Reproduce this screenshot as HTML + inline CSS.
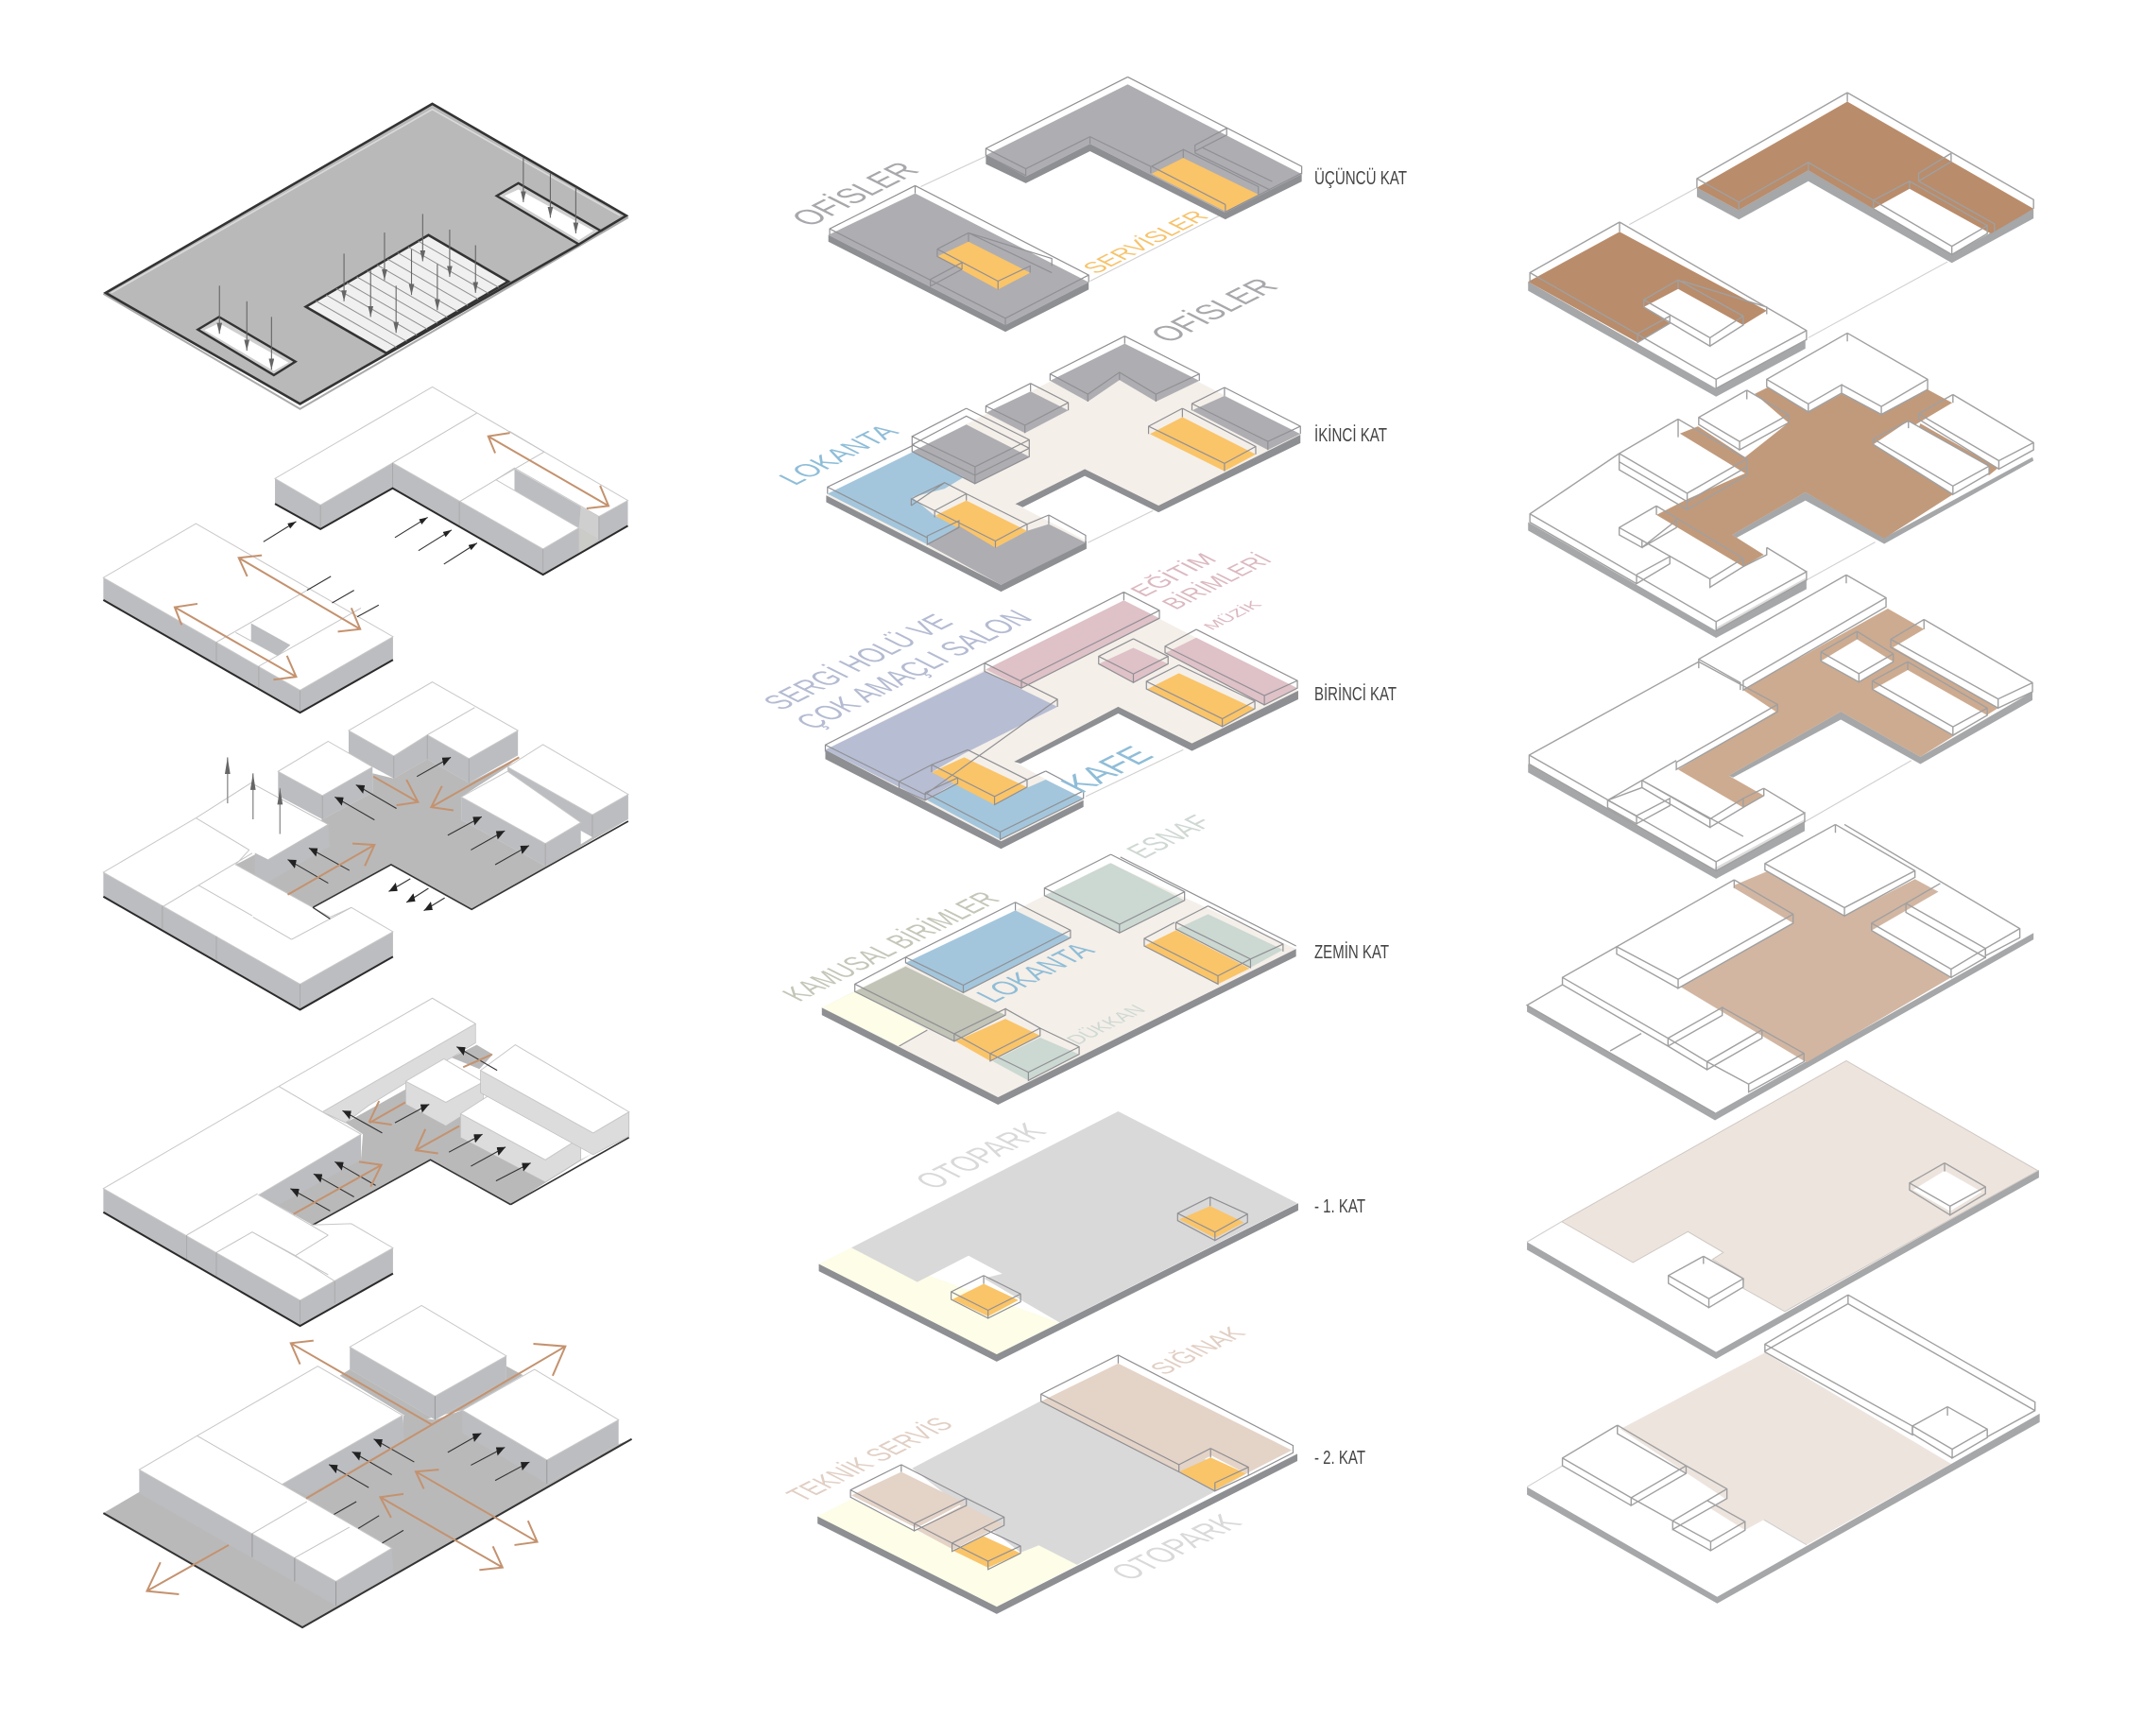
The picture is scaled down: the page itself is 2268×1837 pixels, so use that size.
<!DOCTYPE html>
<html><head><meta charset="utf-8"><style>
html,body{margin:0;padding:0;background:#fff}
svg{display:block}
svg *{vector-effect:non-scaling-stroke}
.g{fill:#bcbdc0;stroke:none}
.gl{fill:#dcdcdc;stroke:#bbb;stroke-width:.7}
.t{fill:#fff;stroke:#c8c8c8;stroke-width:1}
.f{fill:#b9b9b9;stroke:none}
.d{fill:none;stroke:#2a2a2a;stroke-width:2}
.dk{fill:none;stroke:#333;stroke-width:2.6}
.l{fill:none;stroke:#c4c4c4;stroke-width:1}
.v{fill:none;stroke:#666;stroke-width:1.1;marker-end:url(#v)}
.vu{fill:none;stroke:#999;stroke-width:1.5;marker-end:url(#v)}
.b{fill:none;stroke:#333;stroke-width:1.1;marker-end:url(#a)}
.bn{fill:none;stroke:#333;stroke-width:1.1}
.o{fill:none;stroke:#c4926f;stroke-width:2;stroke-linejoin:miter}
.h{fill:none;stroke:#8f8f8f;stroke-width:1}
.w{fill:none;stroke:#909094;stroke-width:1.2}
.w3{fill:none;stroke:#a0a0a0;stroke-width:1.4}
.c{fill:none;stroke:#d0d0d0;stroke-width:1.1}
.s{fill:#8e8f92;stroke:none}
.s3{fill:#a5a7a9;stroke:none}
.sb{fill:none;stroke:#dcdcdc;stroke-width:3}
text{font-family:"Liberation Sans",sans-serif;text-anchor:middle}
.fl{text-anchor:start;fill:#444;font-size:20px}
</style></head><body>
<svg width="2268" height="1837" viewBox="0 0 2268 1837" xmlns="http://www.w3.org/2000/svg">
<defs>
<marker id="a" markerUnits="userSpaceOnUse" markerWidth="30" markerHeight="18" refX="22" refY="7" orient="auto"><path d="M0,0L22,7L0,14z" fill="#222"/></marker>
<marker id="v" markerUnits="userSpaceOnUse" markerWidth="30" markerHeight="18" refX="26" refY="7" orient="auto"><path d="M0,0L26,7L0,14z" fill="#666"/></marker>
</defs>
<rect width="2268" height="1837" fill="#fff"/>

<!-- COLUMN 1 upper -->
<g transform="translate(80,80) scale(.40816,.44643)">
<path class="f" d="M925,65L1428,332L582,780L76,515z"/>
<path d="M72,517L582,790L1433,336" fill="none" stroke="#aaa" stroke-width="2"/>
<path class="dk" d="M1362,368L1428,332L925,67L78,515L582,778L1305,400"/>
<path d="M92,515L925,80L1412,332" fill="none" stroke="#dadada" stroke-width="1.6"/>
<path d="M1305,400L1362,368" fill="none" stroke="#888" stroke-width="1.5"/>
<path d="M372,572L570,678L514,710L317,602z" fill="#cfcfcf" stroke="#333" stroke-width="2.4"/>
<path d="M372,587L552,680L514,700L334,603z" fill="#fff"/>
<path d="M1148,255L1362,368L1305,400L1092,285z" fill="#cfcfcf" stroke="#333" stroke-width="2.4"/>
<path d="M1148,270L1343,368L1305,390L1112,285z" fill="#fff"/>
<path d="M915,378L1122,488L806,658L597,548z" fill="#f0f0f0" stroke="#333" stroke-width="2.6"/>
<path class="h" d="M623,534L832,644M650,520L859,630M676,505L885,615M703,491L912,601M729,477L938,587M756,463L964,573M782,449L991,559M809,435L1017,545M835,420L1044,530M862,406L1070,516M888,392L1097,502"/>
<path class="v" d="M373,498V612"/><path class="v" d="M444,535V652"/><path class="v" d="M508,572V697"/><path class="v" d="M1161,195V300"/><path class="v" d="M1231,232V337"/><path class="v" d="M1297,265V374"/><path class="v" d="M696,422V535"/><path class="v" d="M801,372V485"/><path class="v" d="M900,328V440"/><path class="v" d="M970,365V477"/><path class="v" d="M1037,402V515"/><path class="v" d="M871,412V520"/><path class="v" d="M938,447V556"/><path class="v" d="M765,462V572"/><path class="v" d="M831,498V610"/>

<!-- upper L -->
<path class="g" d="M517,955L635,1018L822,918L1212,1122L1305,1072L1138,932L1138,985L1305,1072L1357,1045L1432,1007V1065L1212,1183L822,978L635,1075L517,1015z"/>
<path d="M1305,1072L1357,1100V1045L1305,1020z" fill="#cfcfcf"/>
<path d="M1305,1072V1132L1357,1100z" fill="#cbcbc8"/>
<path class="g" d="M1138,932L1310,1022L1305,1072L1138,985z"/>
<path class="t" d="M925,738L1432,1007L1357,1045L1138,930L1090,958L1305,1072L1212,1122L822,918L635,1018L517,955z"/>
<path class="l" d="M1040,800L822,918M1215,892L1090,958M995,1010L1090,958M1125,843L1215,892"/>
<path d="M635,1018V1075M822,918V978M995,1010V1070M1212,1122V1183M1357,1045V1100" fill="none" stroke="#aaa" stroke-width="1"/>
<path class="d" d="M517,1015L635,1075L822,978L1212,1183L1432,1067"/>
<path class="b" d="M487,1105L572,1057"/><path class="b" d="M828,1095L913,1047"/><path class="b" d="M889,1126L975,1077"/><path class="b" d="M955,1158L1041,1108"/>
<path class="o" d="M1070,855L1382,1020M1126,847L1070,855L1088,895M1325,1026L1382,1020L1360,972"/>

<!-- lower L -->
<path class="g" d="M72,1190L582,1457L823,1330V1385L582,1510L72,1243z"/>
<path class="t" d="M312,1062L823,1330L582,1457L72,1190z"/>
<path class="l" d="M365,1343L600,1220M475,1400L740,1262M415,1320L525,1375"/>
<path class="g" d="M455,1298L557,1350L525,1375L455,1340z"/>
<path d="M582,1457V1510M365,1343V1390M475,1400V1450" fill="none" stroke="#aaa" stroke-width="1"/>
<path class="d" d="M72,1243L582,1510L823,1385"/>
<path class="bn" d="M600,1220L662,1187M665,1250L722,1220M730,1283L786,1255"/>
<path class="o" d="M423,1143L738,1312M483,1137L423,1143L445,1187M680,1318L738,1312L715,1262M257,1260L572,1425M316,1252L257,1260L275,1302M513,1432L572,1425L548,1375"/>
</g>

<!-- COLUMN 1 lower -->
<g transform="translate(80,700) scale(.40816,.67602)">
<!-- D -->
<path class="f" d="M415,318L640,247L770,205V175L825,183L912,153L1020,190L1147,150L1120,165L1000,212V248L1218,320L1340,275L1433,247L1027,388L818,318L615,385z"/>
<path d="M1433,250L1027,388L818,318L615,385" fill="none" stroke="#333" stroke-width="1.6"/>
<path class="g" d="M708,108L825,148L912,115L1020,152L1147,108V147L1020,190L912,153L825,183L708,145z"/>
<path class="t" d="M925,32L1147,108L1020,152L912,115L825,148L708,108z"/>
<path class="l" d="M1035,72L912,115"/>
<path class="g" d="M525,172L640,210L770,165V205L640,247L525,210z"/>
<path class="t" d="M655,125L770,165L640,210L525,172z"/>
<path class="g" d="M1120,165L1340,240L1433,208V247L1340,275L1120,200z"/>
<path class="t" d="M1212,130L1433,208L1340,240L1120,165z"/>
<path class="g" d="M1000,212L1218,285L1310,252V288L1218,320L1000,248z"/>
<path class="t" d="M1120,172L1310,252L1218,285L1000,212z"/>
<path class="g" d="M465,298L500,310L655,255L658,290L500,345L465,335z"/>
<path d="M312,245L455,190L655,255L500,310L450,295z" fill="#fff"/>
<path class="l" d="M312,245L455,190L655,255L500,310M312,245L450,295"/>
<path class="g" d="M72,330L582,505L823,423V462L582,545L72,368z"/>
<path class="t" d="M72,330L312,245L450,295L415,318L660,400L715,385L823,423L582,505z"/>
<path class="l" d="M228,383L458,300M318,350L458,398M460,400L560,435M560,435L715,385"/>
<path d="M615,385L660,403" fill="none" stroke="#333" stroke-width="1.2"/>
<path d="M225,382V418M365,430V467M582,505V545M640,210V247M825,148V183M912,115V153M1020,152V190M1218,285V320M1340,240V275" fill="none" stroke="#aaa" stroke-width="1"/>
<path class="d" d="M72,368L582,545L823,462"/>
<path class="vu" d="M394,222V150"/><path class="vu" d="M460,247V175"/><path class="vu" d="M530,270V198"/>
<path class="b" d="M775,248L672,212"/><path class="b" d="M832,230L727,193"/><path class="b" d="M710,327L605,292"/><path class="b" d="M655,347L550,310"/><path class="b" d="M885,180L973,150"/><path class="b" d="M965,272L1053,243"/><path class="b" d="M1025,295L1113,265"/><path class="b" d="M1088,318L1176,288"/><path class="b" d="M868,340L812,360"/><path class="b" d="M915,355L858,377"/><path class="b" d="M957,370L903,390"/>
<path class="o" d="M550,365L775,287M718,285L775,287L750,320M772,180L888,220M832,225L888,220L858,185M1150,150L922,228M980,233L922,228L950,195"/>

<!-- E -->
<path class="f" d="M475,835L740,780L745,740L700,722L855,670L960,725L995,710L1218,810L1340,770L1128,850L920,780L615,882z"/>
<path class="f" d="M975,620L1040,600L1082,615L1047,638z"/>
<path d="M1128,850L920,780L615,882M1128,850L1435,745" fill="none" stroke="#333" stroke-width="1.6"/>
<path class="gl" d="M640,705L1037,567V597L975,620L855,660L760,695L700,722z"/>
<path class="g" d="M475,835L740,740V780L528,850z"/>
<path class="gl" d="M856,657L960,690L1057,658V690L960,727L856,693z"/>
<path class="t" d="M955,622L1057,658L960,690L856,657z"/>
<path class="gl" d="M998,708L1218,780L1310,745V780L1218,815L998,745z"/>
<path class="t" d="M1095,670L1310,745L1218,780L998,708z"/>
<path class="gl" d="M1050,640L1342,738L1435,705V743L1342,772L1050,675z"/>
<path class="t" d="M1140,600L1435,705L1342,738L1050,640z"/>
<path class="g" d="M72,825L582,1000L823,918V958L582,1040L72,862z"/>
<path class="t" d="M72,825L527,665L925,527L1037,567L640,705L740,740L475,835L655,898L610,882L715,880L823,918L582,1000z"/>
<path class="l" d="M527,665L640,705M288,898L472,833M365,925L458,893L655,960M458,893L570,930L655,898M570,930L672,970"/>
<path d="M288,898V935M365,925V962M582,1000V1040M672,970V1005" fill="none" stroke="#aaa" stroke-width="1"/>
<path class="d" d="M72,862L582,1040L823,958"/>
<path class="b" d="M795,738L692,703"/><path class="b" d="M1093,640L988,603"/><path class="b" d="M828,722L917,693"/><path class="b" d="M778,820L672,783"/><path class="b" d="M722,838L617,802"/><path class="b" d="M660,860L557,825"/><path class="b" d="M968,768L1055,740"/><path class="b" d="M1025,790L1115,760"/><path class="b" d="M1090,813L1180,785"/>
<path class="o" d="M565,865L793,788M735,783L793,788L765,822M855,690L762,722M820,725L762,720L787,688M995,727L882,765M940,770L882,765L907,732M1005,635L1080,615"/>

<!-- F -->
<path class="f" d="M72,1333L165,1300L600,1290L848,1218L850,1180L932,1187L1003,1172L1222,1287L1408,1225L1442,1217L588,1512z"/>
<path class="f" d="M685,1118L711,1108L932,1187L1117,1125V1103L1160,1117L1003,1172L880,1190z"/>
<path d="M72,1333L588,1512L1442,1217" fill="none" stroke="#333" stroke-width="2"/>
<path class="g" d="M711,1073L932,1150L1117,1087V1125L932,1187L711,1108z"/>
<path class="t" d="M897,1008L1117,1087L932,1150L711,1073z"/>
<path class="g" d="M535,1288L848,1180L852,1218L600,1305z"/>
<path class="g" d="M165,1265L675,1440L820,1388L825,1428L675,1478L165,1302z"/>
<path class="t" d="M628,1103L848,1180L535,1288L820,1388L675,1440L165,1265L315,1212z"/>
<path class="l" d="M315,1212L535,1288M458,1365L600,1315M568,1403L710,1355"/>
<path class="g" d="M1003,1172L1222,1250L1408,1187V1225L1222,1287L1003,1208z"/>
<path class="t" d="M1190,1108L1408,1187L1222,1250L1003,1172z"/>
<path d="M458,1365V1402M568,1403V1440M675,1440V1478M932,1150V1187M1222,1250V1287" fill="none" stroke="#999" stroke-width="1"/>
<path class="b" d="M878,1253L773,1217"/><path class="b" d="M820,1273L717,1237"/><path class="b" d="M760,1293L657,1257"/><path class="b" d="M965,1238L1052,1208"/><path class="b" d="M1025,1258L1113,1230"/><path class="b" d="M1088,1282L1177,1253"/>
<path class="bn" d="M670,1335L728,1315M733,1357L787,1337M795,1380L850,1360"/>
<path class="o" d="M185,1455L397,1383M220,1410L185,1455L268,1460M598,1310L1270,1072M1187,1068L1270,1072L1237,1118M558,1067L925,1195M617,1063L558,1067L582,1100M882,1268L1197,1378M942,1265L882,1268L903,1295M1138,1383L1197,1378L1173,1345M790,1308L1107,1418M850,1303L790,1308L818,1340M1047,1422L1107,1418L1082,1385"/>
</g>

<!-- COLUMN 2 top -->
<g transform="translate(800,60) scale(.45918,.35714)">
<path class="c" d="M530,295L380,385M1070,470L770,665"/>
<!-- upper L -->
<path class="s" d="M530,292V318L622,375L770,280L1082,482L1258,370V348L1082,462L770,258L622,355z"/>
<path fill="#aeadb2" d="M857,82L1258,348L1082,462L770,258L622,355L530,292z"/>
<path fill="#fac469" d="M985,300L1158,408L1082,458L912,347z"/>
<path class="w" d="M857,60L1258,325V348M857,60L530,272V292L622,352V332L770,237L910,325V345M530,272L622,332M770,237V258M622,332V352M1082,438V460L1258,345M912,325L985,275V300M985,275L1158,385V408M1085,212L1012,262V285M1012,285L1185,395M1030,270L1190,370M1085,212V232L1012,280M1082,438L912,325"/>
<!-- lower -->
<path class="s" d="M167,528V548L575,815L767,690V668L575,795z"/>
<path fill="#aeadb2" d="M367,405L767,668L575,795L167,528z"/>
<path fill="#fac469" d="M490,548L632,640L558,690L418,592z"/>
<path class="w" d="M367,382L767,647V668M367,382L170,510V528M367,382V405M170,510L575,775V795M575,775L767,647M418,570L490,522L682,598V620M418,570V592L475,630M490,522V548M490,522L682,640M558,665V690M558,665L632,620L632,640M418,570L558,665M402,660L475,610V630M402,660V680L475,630"/>
<!-- second floor -->
<path fill="#f4efe9" d="M850,850L1255,1120L928,1330L758,1222L598,1325L762,1435L565,1565L162,1300z"/>
<path class="s" d="M598,1325L758,1222V1242L615,1335zM758,1222L928,1330L1255,1120V1145L928,1350L758,1242zM162,1300V1320L565,1585L762,1458V1435L565,1565z"/>
<path class="c" d="M765,1440L915,1345"/>
<path fill="#aeadb2" d="M850,850L1022,960L922,1022L838,958L765,1022L678,960z"/>
<path fill="#aeadb2" d="M633,992L720,1048L620,1115L530,1055z"/>
<path fill="#aeadb2" d="M485,1090L630,1185L505,1265L360,1170z"/>
<path fill="#aeadb2" d="M1080,1005L1255,1118L1180,1165L1005,1048z"/>
<path fill="#fac469" d="M983,1068L1152,1178L1080,1228L908,1118z"/>
<path fill="#a3c6dc" d="M360,1172L480,1245L435,1280L360,1305L412,1360L468,1390L395,1445L165,1295z"/>
<path fill="#fac469" d="M485,1315L625,1405L552,1455L413,1360z"/>
<path fill="#aeadb2" d="M395,1445L468,1390L552,1455L625,1405L675,1385L760,1440L565,1565z"/>
<path class="w" d="M850,828L1022,940V960M850,828L678,940V960M678,940L765,1000V1022M765,1000L838,935L922,1000V1022M838,935V958M922,1000L1022,940M850,828V850"/>
<path class="w" d="M633,968L720,1025V1048M633,968L530,1035V1055M530,1035L620,1092V1115M620,1092L720,1025M633,968V992"/>
<path class="w" d="M485,1042L630,1135V1185L505,1265V1215L360,1125V1170L505,1265M360,1125L485,1042M505,1215L630,1135M360,1150L485,1065L630,1160M360,1150L505,1240L630,1160"/>
<path class="w" d="M1080,980L1255,1095V1118M1080,980L1005,1028V1048M1005,1028L1180,1140V1165M1180,1140L1255,1095M1080,980V1005"/>
<path class="w" d="M983,1042L1152,1155V1178M983,1042L905,1095V1118M905,1095L1080,1205V1228M1080,1205L1152,1155M983,1042V1068"/>
<path class="w" d="M485,1295L625,1385V1405M358,1330L435,1262L485,1295V1315M358,1330V1310L435,1262M358,1310L412,1345V1365M412,1345L485,1295M625,1385L552,1435V1455M412,1345L552,1435M395,1420L468,1375V1395L395,1445z"/>
<path class="w" d="M365,1150L165,1275V1295M165,1275L395,1425M675,1358L760,1418V1440M675,1358L625,1385M675,1358V1385"/>
</g>

<!-- COLUMN 2 middle -->
<g transform="translate(800,570) scale(.45918,.39541)">
<path class="c" d="M760,690L985,565"/>
<!-- first floor -->
<path fill="#f4efe9" d="M848,165L1250,407L1005,548L835,450L595,597L755,700L565,810L160,565z"/>
<path class="s" d="M595,597L835,450V468L610,602zM835,450L1005,548L1250,407V430L1005,568L835,468zM160,565V590L565,830L755,718V700L565,810z"/>
<path fill="#dfc1c8" d="M848,165L930,213L612,400L530,350z"/>
<path fill="#b7bdd3" d="M528,355L695,450L480,575L405,625L465,650L390,700L160,565z"/>
<path fill="#a3c6dc" d="M465,650L550,705L668,645L755,695L563,805L395,700z"/>
<path fill="#fac469" d="M480,585L625,665L550,712L405,625z"/>
<path fill="#dfc1c8" d="M870,292L950,335L870,385L790,335z"/>
<path fill="#dfc1c8" d="M1015,265L1248,400L1172,445L945,305z"/>
<path fill="#fac469" d="M975,360L1150,455L1075,503L903,402z"/>
<path class="w" d="M848,143L930,192V213L612,400V378L930,192M848,143L527,333V355L612,400M527,333L695,430V450M527,333L160,552V570M160,552L390,685L695,430M848,143V165"/>
<path class="w" d="M870,268L950,315V335L870,385V362L950,315M870,268L790,315V335L870,385M790,315L870,362M1015,243L1248,380V400L1172,445V420L1248,380M1015,243L943,288V305L1172,445M943,288L1172,420"/>
<path class="w" d="M975,338L1150,435V455L1075,503V482L1150,435M975,338L900,382V402L1075,503M900,382L1075,482"/>
<path class="w" d="M488,565L625,645V665L550,712V690L625,645M405,625V605L488,565M405,605L550,690M330,650L405,605M330,650V668L390,700M390,680L465,640V655L390,700V680M668,622L755,675V695L563,805V785L755,675M668,622L625,645M563,785L390,680"/>
<!-- zero floor -->
<path fill="#f4efe9" d="M815,868L1245,1098L558,1495L152,1255z"/>
<path class="s" d="M152,1255V1275L558,1515L1245,1118V1098L558,1495z"/>
<path fill="#fdfde8" d="M228,1212L395,1315L330,1358L152,1255z"/>
<path fill="#ccd8d2" d="M818,868L988,968L838,1055L665,955z"/>
<path fill="#ccd8d2" d="M1042,1005L1215,1100L1140,1148L968,1045z"/>
<path fill="#fac469" d="M968,1048L1138,1150L1065,1192L895,1090z"/>
<path fill="#a3c6dc" d="M598,995L725,1068L478,1215L345,1135z"/>
<path fill="#c1c4b6" d="M345,1145L575,1275L457,1345L228,1212z"/>
<path fill="#fac469" d="M575,1285L655,1330L540,1398L460,1345z"/>
<path fill="#ccd8d2" d="M655,1335L745,1380L628,1450L545,1398z"/>
<path class="w" d="M818,845L988,945V968L838,1055V1032L988,945M818,845L665,935V955L838,1055M665,935L838,1032M840,852L1245,1090"/>
<path class="w" d="M1042,983L1215,1085V1105M1042,983L968,1027V1045L1140,1148V1125L968,1027M1140,1125L1215,1085M965,1027L895,1070V1090L1065,1192V1170L895,1070M1065,1170L1140,1125"/>
<path class="w" d="M598,973L725,1048V1068L478,1215V1195L725,1048M598,973L345,1120V1135L478,1215M345,1120L478,1195M345,1120L228,1192V1212L457,1345V1325L228,1192M457,1325L575,1258V1275L457,1345M598,973L598,995"/>
<path class="w" d="M575,1258L655,1310V1330L540,1398V1378L655,1310M457,1325L540,1378M655,1310L745,1360V1380L628,1450V1428L745,1360M540,1378L628,1428M330,1358L395,1315"/>
</g>

<!-- COLUMN 2 lower -->
<g transform="translate(800,1150) scale(.45918,.38265)">
<!-- -1 -->
<path fill="#fdfde8" d="M220,445L700,652L555,740L145,490z"/>
<path class="s" d="M145,490V510L555,760L1250,342V322L555,740z"/>
<path fill="#d9d9d9" d="M835,68L1248,322L700,652L525,530L568,517L490,467L372,540L220,445z"/>
<path fill="#fac469" d="M1047,330L1125,375L1058,418L975,367z"/>
<path fill="#fac469" d="M525,545L605,590L535,635L453,588z"/>
<path class="w" d="M1047,305L1133,352V375L1058,425V402L1133,352M1047,305L972,350V370L1058,425M972,350L1058,402M1047,305V330"/>
<path class="w" d="M525,522L610,573V595L535,640V618L610,573M525,522L450,567V588L535,640M450,567L535,618M525,522V545"/>
<!-- -2 -->
<path fill="#fdfde8" d="M142,1188L220,1140L460,1280L610,1288L652,1268L740,1322L555,1438z"/>
<path class="s" d="M142,1188V1208L555,1458L1248,1035V1015L555,1438z"/>
<path fill="#d9d9d9" d="M655,870L1130,1070L1060,1118L740,1322L652,1268L610,1288L360,1055z"/>
<path fill="#e4d3c7" d="M835,765L1235,1005L1130,1070L1050,1020L975,1065L657,870z"/>
<path fill="#fac469" d="M1048,1025L1130,1070L1058,1115L975,1065z"/>
<path fill="#e4d3c7" d="M335,1065L480,1150L370,1220L220,1130z"/>
<path fill="#e4d3c7" d="M480,1155L570,1210L455,1280L370,1225z"/>
<path fill="#fac469" d="M525,1243L610,1290L535,1330L455,1283z"/>
<path class="w" d="M835,742L1238,992V1012L1135,1075M835,742L657,850V870L975,1065V1045L657,850M835,742V765M1048,1000L1135,1052V1075L1058,1118V1095L1135,1052M1048,1000L975,1045M975,1065L1058,1118M1048,1000V1025"/>
<path class="w" d="M335,1045L485,1138V1158L365,1228V1208L485,1138M335,1045L218,1115V1135L365,1228M218,1115L365,1208M335,1045V1065M485,1138L572,1190V1213L452,1285V1262L572,1190M365,1208L452,1262M525,1222L610,1270V1290L535,1335V1312L610,1270M452,1262L535,1312"/>
</g>

<!-- COLUMN 3 top -->
<g transform="translate(1600,80) scale(.38265)">
<path class="c" d="M325,412L512,310M820,725L1205,515M815,1395L1005,1290"/>
<!-- third -->
<path class="s3" d="M512,310L627,372L820,262L1217,495L1443,368V395L1217,518L820,292L628,398L512,335z"/>
<path fill="#b98c6b" d="M928,72L1443,368L1325,437L1100,313L1000,368L820,262L627,372L512,310z"/>
<path class="w3" d="M928,47L1443,343V368M928,47L512,285V310M928,47V72M512,285L628,350V372M628,350L820,240V262M820,240L1000,345V368M1215,215L1125,270V292M1215,215V238L1125,292M1000,345L1100,292V313M1100,292L1315,415V437M1000,368L1217,495V472L1000,345M1217,472L1315,415V437L1217,495M1125,292L1335,410V432M1217,472V495"/>
<path class="s3" d="M45,570L565,865L812,730V755L565,888L45,595z"/>
<path fill="#b98c6b" d="M298,432L705,650L640,690L460,590L365,640L437,685L348,738L45,570z"/>
<path class="w3" d="M298,405L815,705V730L565,865V840L815,705M298,405L50,545V570M298,405V432M50,545L565,840M460,565L365,620V640L548,748V725L365,620M460,565V590M460,565L640,665V690L548,748M548,725L640,665M470,568L705,640V660M345,715L437,665V685L348,738V715"/>
<!-- second -->
<path class="s3" d="M610,1270L812,1152V1175L622,1278zM812,1152L1030,1278L1440,1055L1443,1065L1030,1295L812,1175zM45,1235L565,1535L815,1395V1420L565,1555L45,1258z"/>
<path class="sb" d="M565,1531L815,1392"/>
<path fill="#c19a7c" d="M672,880L708,862L822,930L912,880L1022,937L1150,868L1218,905L1100,975L1000,1020L1220,1158L1030,1280L812,1152L610,1270L697,1325L640,1358L400,1215L488,1170L645,1100L465,990L515,970L645,1055L765,960z"/>
<path fill="#c19a7c" d="M1130,962L1345,1085L1320,1105L1125,975z"/>
<path fill="#fff" d="M1097,955L1320,1080V1100L1220,1158L1000,1020z"/>
<path class="w3" d="M928,712L1150,840V868L1022,937V915L1150,840M928,712L705,840V860L820,930V908L705,840M928,712V735M820,908L912,855V878L820,930M912,855L1022,915V937L912,878"/>
<path class="w3" d="M650,870L765,938V960L630,1035V1012L765,938M650,870L517,945V965L630,1035M517,945L630,1012M650,870V895"/>
<path class="w3" d="M460,950L650,1060V1105L485,1200V1155L650,1060M460,950L297,1045V1090L485,1200M297,1045L485,1155M297,1068L485,1178L650,1082M460,950V1000"/>
<path class="w3" d="M1220,882L1443,1015V1035L1347,1088V1065L1443,1015M1220,882L1125,935V950L1347,1088M1125,935L1347,1065M1220,882V905"/>
<path class="w3" d="M1097,955L1320,1080V1100L1220,1158V1135L1320,1080M1097,955L1000,1005V1020L1220,1158M1000,1005L1220,1135M1097,955V975"/>
<path class="w3" d="M297,1045L50,1212V1235L345,1405M50,1212L565,1510L815,1372V1395L565,1535V1510M705,1305L815,1372M705,1305V1325L640,1358M400,1190L297,1250V1270L360,1305V1285L297,1250M400,1190L640,1335V1358L548,1415V1392L640,1335M360,1285L548,1392M360,1305L455,1230V1250L360,1305M345,1380L437,1330V1350L345,1405V1380M400,1190V1215"/>
</g>

<!-- COLUMN 3 middle -->
<g transform="translate(1600,600) scale(.38265)">
<path class="c" d="M810,705L1105,535"/>
<!-- first -->
<path class="s3" d="M600,577L910,400V422L612,582zM910,400L1130,525L1440,345V368L1130,545L910,422zM45,545L560,838L810,705V730L565,862L45,568z"/>
<path class="sb" d="M562,836L810,702"/>
<path fill="#cdab90" d="M1040,115L1140,172L1055,222L1345,390L1130,525L910,400L600,577L697,632L640,665L460,560L730,400L640,340L860,215z"/>
<path fill="#fff" d="M955,200L1055,262L960,318L855,260z"/>
<path fill="#fff" d="M1095,285L1315,410L1220,465L1000,338z"/>
<path class="w3" d="M925,22L1035,85V110L640,340V315L1035,85M925,22L517,255V280M925,22V45M517,255L632,320V340M517,262L735,380V400L455,560V540L735,380M517,262L48,520V545L565,840V815L810,680V705L565,840M48,520L565,815"/>
<path class="w3" d="M955,178L1055,240V262L960,318V295L1055,240M955,178L855,235V260L960,318M855,235L960,295M955,178V200"/>
<path class="w3" d="M1140,145L1440,320V345L1345,390V365L1440,320M1140,145L1048,200V222L1345,390M1048,200L1345,365M1140,145V172"/>
<path class="w3" d="M1095,262L1315,390V410L1220,465V442L1315,390M1095,262L997,315V338L1220,465M997,315L1220,442M1095,262V285"/>
<path class="w3" d="M697,612V632L640,665V640L697,612M360,590L640,745M455,535L360,590V610L548,720V697L360,590M548,697L640,640V665L548,720M360,610L265,645V665L345,710V688L265,645M345,688L437,640V660L345,710M265,645L360,590M697,612L810,680"/>
<!-- zero -->
<path class="s3" d="M42,1212V1230L562,1530L1443,1030V1012L562,1510z"/>
<path fill="#d2b6a2" d="M615,880L705,842L920,965L1115,863L1180,898L995,1005L1215,1135L815,1370L465,1160L778,985L615,888z"/>
<path class="w3" d="M895,712L1115,840V858L920,965V942L1115,840M895,712L700,820V838L920,965M700,820L920,942M895,712V735M920,712L1405,1000V1025L1310,1075V1055L1405,1000"/>
<path class="w3" d="M615,865L778,960V985L460,1165V1140L778,960M615,865L290,1050V1070L460,1165M290,1050L460,1140M615,865V888"/>
<path class="w3" d="M1185,875L995,985V1005L1215,1135V1112L995,985M1090,930V955L1310,1080V1055L1090,930M1215,1112L1310,1055V1080L1215,1135"/>
<path class="w3" d="M290,1050L140,1135V1155L432,1325V1303L140,1135M140,1155L42,1212L562,1510M432,1303L582,1218V1240L432,1325M582,1218L692,1280V1303L540,1390V1368L692,1280M432,1303L540,1368M432,1325L540,1390M692,1280L808,1345V1368L655,1452V1430L808,1345M540,1368L655,1430M272,1338L358,1290"/>
</g>

<!-- COLUMN 3 bottom -->
<g transform="translate(1600,1100) scale(.38265,.40816)">
<!-- -1 -->
<path class="s3" d="M42,525V545L565,828L1458,358V338L565,810z"/>
<path fill="#ede4de" stroke="#cfc9c3" stroke-width="1" d="M925,55L1455,340L755,705L640,645L642,620L555,570L585,552L487,498L335,578L138,472z"/>
<path d="M138,472L42,525" class="c"/>
<path fill="#fff" d="M1197,340L1300,395L1212,445L1110,390z"/>
<path class="w3" d="M1197,320L1310,382V400L1212,455V432L1310,382M1197,320L1100,372V390L1212,455M1100,372L1212,432M1197,320V342"/>
<path class="w3" d="M530,562L640,620V642L545,695V672L640,620M530,562L433,612V632L545,695M433,612L545,672M530,562V582"/>
<!-- -2 -->
<path class="s3" d="M42,1160V1180L568,1462L1460,992V970L568,1445z"/>
<path fill="#ede4de" d="M700,812L1215,1100L815,1310L697,1245L645,1272L548,1215L590,1190L300,1010z"/>
<path class="c" d="M140,1105L42,1160M697,1245L815,1310"/>
<path class="w3" d="M930,662L1447,940V962L1315,1030M930,662L700,790V810L1108,1025V1002L700,790M930,662V685L700,808M930,685L1447,962"/>
<path class="w3" d="M1205,952L1315,1010V1032L1218,1085V1062L1315,1010M1205,952L1108,1002V1022L1218,1085M1108,1002L1218,1062M1205,952V975"/>
<path class="w3" d="M292,1000L482,1105V1125L330,1208V1188L482,1105M292,1000L140,1085V1105L330,1208M140,1085L330,1188M292,1000V1022L482,1125M482,1105L595,1165V1190L445,1270V1248L595,1165M330,1188L445,1248M540,1195L645,1250V1272L550,1325V1302L645,1250M445,1248L550,1302M445,1270L550,1325"/>
</g>

<!-- LABELS -->
<g font-weight="400">
<text transform="matrix(.89,-.45,.89,.45,904,205)" y="13" font-size="36" fill="#a8a8ac" textLength="132" lengthAdjust="spacingAndGlyphs">OFİSLER</text>
<text transform="matrix(.89,-.45,.89,.45,1212,256)" y="9" font-size="26" fill="#f6c36c" textLength="135" lengthAdjust="spacingAndGlyphs">SERVİSLER</text>
<text transform="matrix(.89,-.45,.89,.45,1284,328)" y="13" font-size="36" fill="#a8a8ac" textLength="132" lengthAdjust="spacingAndGlyphs">OFİSLER</text>
<text transform="matrix(.89,-.45,.89,.45,887,481)" y="11" font-size="31" fill="#8fbdd8" textLength="125" lengthAdjust="spacingAndGlyphs">LOKANTA</text>
<text transform="matrix(.89,-.45,.89,.45,1241,608)" y="10" font-size="27" fill="#dbb8c0" textLength="88" lengthAdjust="spacingAndGlyphs">EĞİTİM</text>
<text transform="matrix(.89,-.45,.89,.45,1287,615)" y="10" font-size="27" fill="#dbb8c0" textLength="116" lengthAdjust="spacingAndGlyphs">BİRİMLERİ</text>
<text transform="matrix(.89,-.45,.89,.45,1304,651)" y="6" font-size="17" fill="#dbb8c0" textLength="60" lengthAdjust="spacingAndGlyphs">MÜZİK</text>
<text transform="matrix(.89,-.45,.89,.45,907,700)" y="13" font-size="35" fill="#b4bbd2" textLength="206" lengthAdjust="spacingAndGlyphs">SERGİ HOLÜ VE</text>
<text transform="matrix(.89,-.45,.89,.45,966,708)" y="13" font-size="35" fill="#b4bbd2" textLength="262" lengthAdjust="spacingAndGlyphs">ÇOK AMAÇLI SALON</text>
<text transform="matrix(.89,-.45,.89,.45,1171,814)" y="14" font-size="40" fill="#8fbdd8" textLength="88" lengthAdjust="spacingAndGlyphs">KAFE</text>
<text transform="matrix(.89,-.45,.89,.45,1237,885)" y="12" font-size="33" fill="#cfd8d2" textLength="84" lengthAdjust="spacingAndGlyphs">ESNAF</text>
<text transform="matrix(.89,-.45,.89,.45,942,1001)" y="12" font-size="33" fill="#c4c6b8" textLength="240" lengthAdjust="spacingAndGlyphs">KAMUSAL BİRİMLER</text>
<text transform="matrix(.89,-.45,.89,.45,1095,1029)" y="12" font-size="33" fill="#8fbdd8" textLength="122" lengthAdjust="spacingAndGlyphs">LOKANTA</text>
<text transform="matrix(.89,-.45,.89,.45,1170,1084)" y="8" font-size="22" fill="#cfd8d2" textLength="82" lengthAdjust="spacingAndGlyphs">DÜKKAN</text>
<text transform="matrix(.89,-.45,.89,.45,1037,1223)" y="13" font-size="37" fill="#d9d9d9" textLength="135" lengthAdjust="spacingAndGlyphs">OTOPARK</text>
<text transform="matrix(.89,-.45,.89,.45,1267,1429)" y="10" font-size="28" fill="#e1cfc4" textLength="98" lengthAdjust="spacingAndGlyphs">SIĞINAK</text>
<text transform="matrix(.89,-.45,.89,.45,920,1544)" y="11" font-size="31" fill="#e1cfc4" textLength="181" lengthAdjust="spacingAndGlyphs">TEKNİK SERVİS</text>
<text transform="matrix(.89,-.45,.89,.45,1244,1637)" y="13" font-size="37" fill="#d9d9d9" textLength="135" lengthAdjust="spacingAndGlyphs">OTOPARK</text>
<text class="fl" x="1391" y="195" textLength="98" lengthAdjust="spacingAndGlyphs">ÜÇÜNCÜ KAT</text>
<text class="fl" x="1391" y="467" textLength="77" lengthAdjust="spacingAndGlyphs">İKİNCİ KAT</text>
<text class="fl" x="1391" y="741" textLength="87" lengthAdjust="spacingAndGlyphs">BİRİNCİ KAT</text>
<text class="fl" x="1391" y="1014" textLength="79" lengthAdjust="spacingAndGlyphs">ZEMİN KAT</text>
<text class="fl" x="1391" y="1283" textLength="54" lengthAdjust="spacingAndGlyphs">- 1. KAT</text>
<text class="fl" x="1391" y="1549" textLength="54" lengthAdjust="spacingAndGlyphs">- 2. KAT</text>
</g>
</svg>
</body></html>
